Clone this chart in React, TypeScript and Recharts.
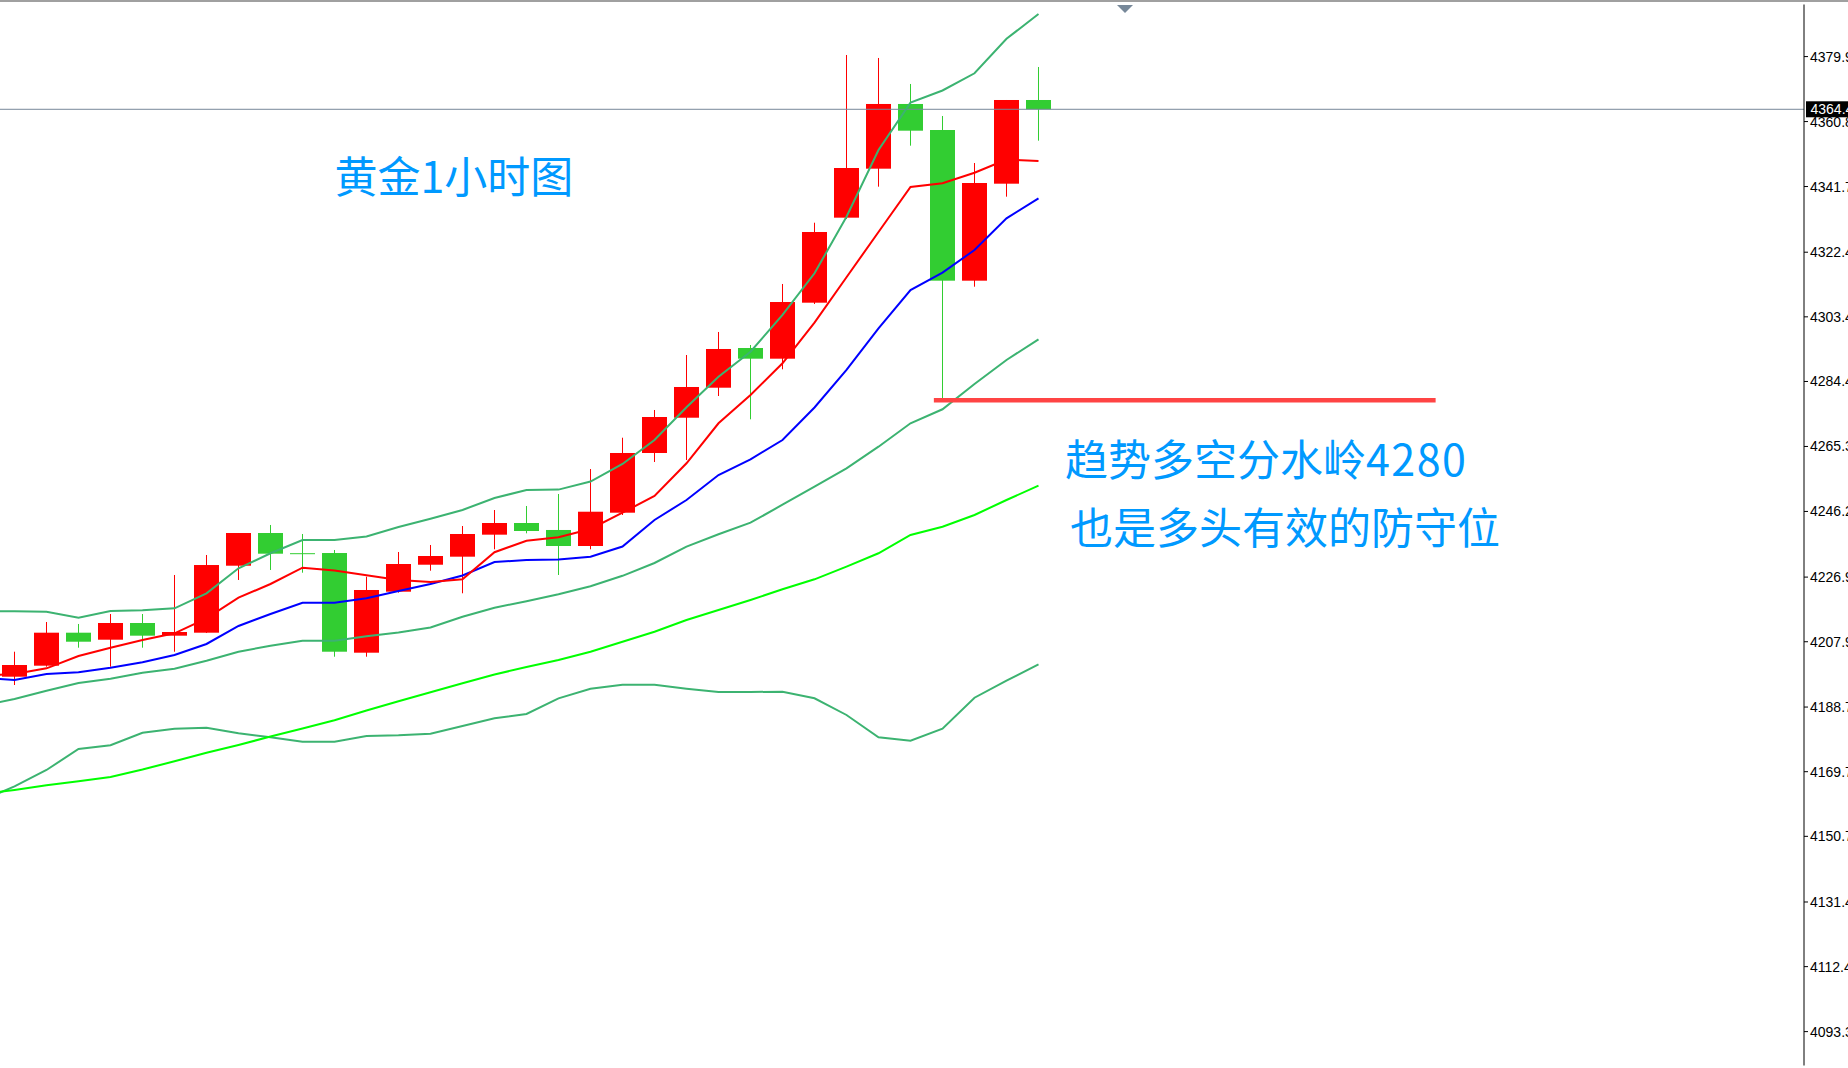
import React from "react";
import { ComposedChart, Bar, Line, XAxis, YAxis, ReferenceLine } from "recharts";

// bar numbers; -1 is the bar just past the left edge (only its indicator values reach the plot)
const barIndex = [
  -1, 0, 1, 2, 3, 4, 5, 6, 7, 8, 9, 10, 11, 12, 13, 14, 15, 16, 17, 18, 19, 20, 21, 22, 23, 24, 25,
  26, 27, 28, 29, 30, 31, 32,
];

// XAUUSD H1 candles, bars 0..32
const opens = [
  4197.62, 4200.86, 4210.56, 4208.5, 4213.41, 4209.68, 4210.56, 4230.25, 4239.86, 4233.78, 4233.98,
  4204.68, 4222.61, 4230.54, 4232.9, 4239.37, 4242.8, 4240.75, 4236.04, 4245.83, 4263.38, 4273.75,
  4282.57, 4294.24, 4291.1, 4307.56, 4332.55, 4346.95, 4365.97, 4358.32, 4314.03, 4342.54, 4367.14,
];
const highs = [
  4204.97, 4213.7, 4213.12, 4216.05, 4216.05, 4227.52, 4233.4, 4239.86, 4242.22, 4239.57, 4234.87,
  4227.02, 4234.28, 4236.34, 4241.92, 4246.62, 4247.8, 4251.33, 4258.67, 4267.87, 4276.02, 4292.18,
  4298.95, 4295.12, 4313.06, 4331.07, 4380.37, 4379.49, 4371.85, 4362.44, 4348.62, 4367.14, 4376.84,
];
const lows = [
  4195.18, 4200.56, 4206.15, 4200.56, 4206.15, 4204.97, 4210.47, 4226.05, 4228.99, 4228.19, 4203.5,
  4203.5, 4222.32, 4228.78, 4222.14, 4235.07, 4239.77, 4227.52, 4235.07, 4245.15, 4260.73, 4261.32,
  4280.13, 4273.28, 4287.98, 4307.18, 4332.16, 4341.66, 4353.71, 4279.46, 4312.26, 4338.72, 4355.18,
];
const closes = [
  4201.06, 4210.56, 4207.91, 4213.41, 4209.68, 4210.76, 4230.45, 4239.86, 4233.78, 4233.78, 4204.97,
  4223.11, 4230.75, 4233.1, 4239.57, 4242.8, 4240.45, 4236.04, 4246.12, 4263.38, 4273.96, 4282.78,
  4293.95, 4291.1, 4307.76, 4328.34, 4347.15, 4365.97, 4358.12, 4314.03, 4342.74, 4367.14, 4364.41,
];

// indicators, bars -1..32
const ma5 = [
  4197.92, 4198.42, 4200.09, 4203.71, 4206.15, 4208.41, 4210.38, 4214.79, 4220.85, 4224.87, 4229.66,
  4228.84, 4227.43, 4226.05, 4225.46, 4226.25, 4234.22, 4237.57, 4238.6, 4241.04, 4245.83, 4250.74,
  4260.35, 4272.11, 4280.43, 4289.75, 4301.68, 4315.03, 4328.34, 4341.57, 4342.66, 4345.77, 4349.65,
  4349.21,
];
const ma10 = [
  4197.24, 4196.65, 4198.42, 4198.92, 4200.27, 4201.86, 4204.0, 4207.24, 4212.53, 4216.05, 4219.38,
  4219.38, 4220.67, 4222.82, 4224.87, 4227.37, 4231.34, 4231.93, 4232.07, 4232.9, 4235.9, 4243.69,
  4249.56, 4256.91, 4261.53, 4267.2, 4276.75, 4287.78, 4300.04, 4311.29, 4316.38, 4323.05, 4332.37,
  4338.25,
];
const bbUpper = [
  4216.94, 4216.85, 4216.73, 4214.97, 4216.94, 4217.14, 4217.73, 4222.14, 4229.49, 4233.9, 4237.81,
  4237.81, 4238.86, 4241.63, 4244.07, 4246.63, 4250.15, 4252.5, 4252.62, 4255.0, 4260.15, 4267.2,
  4276.81, 4285.81, 4293.16, 4303.95, 4316.2, 4332.84, 4352.45, 4366.35, 4369.94, 4374.99, 4385.13,
  4392.42,
];
const bbMiddle = [
  4189.1, 4191.07, 4193.48, 4195.77, 4197.01, 4198.8, 4199.95, 4202.3, 4204.97, 4206.71, 4208.18,
  4208.18, 4209.5, 4210.62, 4212.09, 4215.26, 4217.88, 4219.82, 4221.87, 4224.2, 4227.28, 4231.05,
  4235.84, 4239.48, 4242.89, 4248.18, 4253.47, 4258.88, 4265.23, 4272.11, 4276.23, 4283.66, 4290.72,
  4296.8,
];
const bbLower = [
  4161.26, 4165.41, 4170.2, 4176.37, 4177.46, 4181.16, 4182.34, 4182.63, 4180.99, 4179.81, 4178.52,
  4178.52, 4180.19, 4180.4, 4180.87, 4183.13, 4185.4, 4186.66, 4191.27, 4194.1, 4195.27, 4195.27,
  4194.1, 4193.13, 4193.13, 4193.21, 4191.27, 4186.37, 4179.81, 4178.81, 4182.34, 4191.45, 4196.45,
  4201.27,
];
const ma60 = [
  4163.14, 4164.32, 4165.7, 4166.88, 4168.14, 4170.32, 4172.78, 4175.25, 4177.54, 4180.05, 4182.4,
  4184.81, 4187.69, 4190.42, 4193.07, 4195.68, 4198.27, 4200.48, 4202.53, 4204.97, 4207.91, 4210.85,
  4214.29, 4217.23, 4220.17, 4223.32, 4226.25, 4229.96, 4233.9, 4239.28, 4241.72, 4245.16, 4249.56,
  4253.8,
];

const priceTicks = [
  4379.9, 4360.8, 4341.7, 4322.4, 4303.4, 4284.4, 4265.3, 4246.2, 4226.9, 4207.9, 4188.7, 4169.7,
  4150.7, 4131.4, 4112.4, 4093.3,
];
const lastPrice = 4364.41;
const supportLevel = 4278.9;
const supportFrom = 28.73;
const supportTo = 44.41;

const title = "黄金1小时图";
const noteLine1 = "趋势多空分水岭";
const noteLevel = "4280";
const noteLine2 = "也是多头有效的防守位";

const data = barIndex.map((i, k) => {
  const c = k - 1;
  const has = c >= 0;
  return {
    i,
    open: has ? opens[c] : null,
    high: has ? highs[c] : null,
    low: has ? lows[c] : null,
    close: has ? closes[c] : null,
    ma5: ma5[k],
    ma10: ma10[k],
    bbUpper: bbUpper[k],
    bbMiddle: bbMiddle[k],
    bbLower: bbLower[k],
    ma60: ma60[k],
  };
});

const UP = "#FF0000";
const DOWN = "#32CD32";
const BODY = 25;
const AXIS_FONT = '"Liberation Sans", Arial, sans-serif';
const AXIS_SIZE = 14;

const Candle = (props: any) => {
  const { x, y, width, height, payload } = props;
  if (!payload || payload.open == null || !isFinite(x) || !isFinite(y)) return null;
  const { open, close, high, low } = payload;
  const top = Math.min(y, y + height);
  const span = Math.abs(height);
  const toY = (p: number) => top + ((high - p) / (high - low)) * span;
  const color = close > open ? UP : DOWN;
  const cx = Math.round(x + width / 2 - 0.5) + 0.5;
  const bTop = toY(Math.max(open, close));
  const bBot = toY(Math.min(open, close));
  return (
    <g>
      <line x1={cx} x2={cx} y1={top} y2={top + span} stroke={color} strokeWidth={1} />
      {bBot - bTop < 1 ? (
        <line x1={cx - BODY / 2} x2={cx + BODY / 2} y1={bTop} y2={bTop} stroke={color} strokeWidth={1} />
      ) : (
        <rect x={cx - BODY / 2} y={bTop} width={BODY} height={bBot - bTop} fill={color} />
      )}
    </g>
  );
};

const PriceTag = (props: any) => {
  const vb = props.viewBox;
  if (!vb) return null;
  const x = vb.x + vb.width + 2;
  const y = vb.y;
  return (
    <g>
      <rect x={x} y={y - 8} width={60} height={16} fill="#000" />
      <text x={x + 4.5} y={y} dy="0.36em" fill="#fff" fontSize={AXIS_SIZE} fontFamily={AXIS_FONT}>
        {lastPrice.toFixed(2)}
      </text>
    </g>
  );
};

const noteStyle: React.CSSProperties = {
  position: "absolute",
  fontFamily: '"Noto Sans CJK SC", sans-serif',
  fontSize: 43,
  lineHeight: "43px",
  color: "#0099FF",
  whiteSpace: "nowrap",
};

const xDomain = [-0.453125, 55.921875];
const yDomain = [4083.34, 4395.21];

export default function App() {
  return (
    <div
      style={{
        position: "absolute",
        left: 0,
        top: 0,
        width: 1848,
        height: 1068,
        overflow: "hidden",
        background: "#fff",
      }}
    >
      <ComposedChart
        width={1848}
        height={1068}
        data={data}
        margin={{ top: 4.5, right: 0, bottom: 2.5, left: 0 }}
      >
        <XAxis
          dataKey="i"
          type="number"
          domain={xDomain}
          allowDataOverflow
          height={0}
          tick={false}
          tickLine={false}
          axisLine={{ stroke: "#000" }}
        />
        <XAxis
          xAxisId="top"
          orientation="top"
          dataKey="i"
          type="number"
          domain={xDomain}
          allowDataOverflow
          height={0}
          tick={false}
          tickLine={false}
          axisLine={{ stroke: "#000" }}
        />
        <YAxis
          orientation="right"
          type="number"
          domain={yDomain}
          allowDataOverflow
          ticks={priceTicks}
          interval={0}
          width={44}
          tickSize={4}
          tickFormatter={(v: number) => v.toFixed(2)}
          tick={{ fill: "#000", fontSize: AXIS_SIZE, fontFamily: AXIS_FONT }}
          tickLine={{ stroke: "#000" }}
          axisLine={{ stroke: "#000" }}
        />
        <ReferenceLine
          y={lastPrice}
          stroke="#778899"
          strokeWidth={1}
          label={{ content: (p: any) => <PriceTag {...p} /> }}
        />
        <Bar
          dataKey={(d: any) => (d.high == null ? null : [d.low, d.high])}
          barSize={BODY}
          shape={(p: any) => <Candle {...p} />}
          isAnimationActive={false}
        />
        <Line dataKey="bbUpper" type="linear" stroke="#3CB371" strokeWidth={2} dot={false} isAnimationActive={false} />
        <Line dataKey="bbMiddle" type="linear" stroke="#3CB371" strokeWidth={2} dot={false} isAnimationActive={false} />
        <Line dataKey="bbLower" type="linear" stroke="#3CB371" strokeWidth={2} dot={false} isAnimationActive={false} />
        <Line dataKey="ma60" type="linear" stroke="#00FF00" strokeWidth={2} dot={false} isAnimationActive={false} />
        <Line dataKey="ma10" type="linear" stroke="#0000FF" strokeWidth={2} dot={false} isAnimationActive={false} />
        <Line dataKey="ma5" type="linear" stroke="#FF0000" strokeWidth={2} dot={false} isAnimationActive={false} />
        <ReferenceLine
          segment={[
            { x: supportFrom, y: supportLevel },
            { x: supportTo, y: supportLevel },
          ]}
          stroke="#FF4444"
          strokeWidth={4.5}
        />
      </ComposedChart>

      <div style={{ position: "absolute", left: 0, top: 0, width: 1848, height: 2, background: "#A0A0A0" }} />
      <svg style={{ position: "absolute", left: 1116, top: 4 }} width={18} height={10}>
        <polygon points="1,1 17,1 9,9" fill="#778899" />
      </svg>

      <div style={{ ...noteStyle, left: 334.5, top: 152.5 }}>{title}</div>
      <div style={{ ...noteStyle, left: 1065, top: 435.5 }}>
        {noteLine1}
        <span style={{ letterSpacing: 1.5 }}>{noteLevel}</span>
      </div>
      <div style={{ ...noteStyle, left: 1070, top: 504 }}>{noteLine2}</div>
    </div>
  );
}
